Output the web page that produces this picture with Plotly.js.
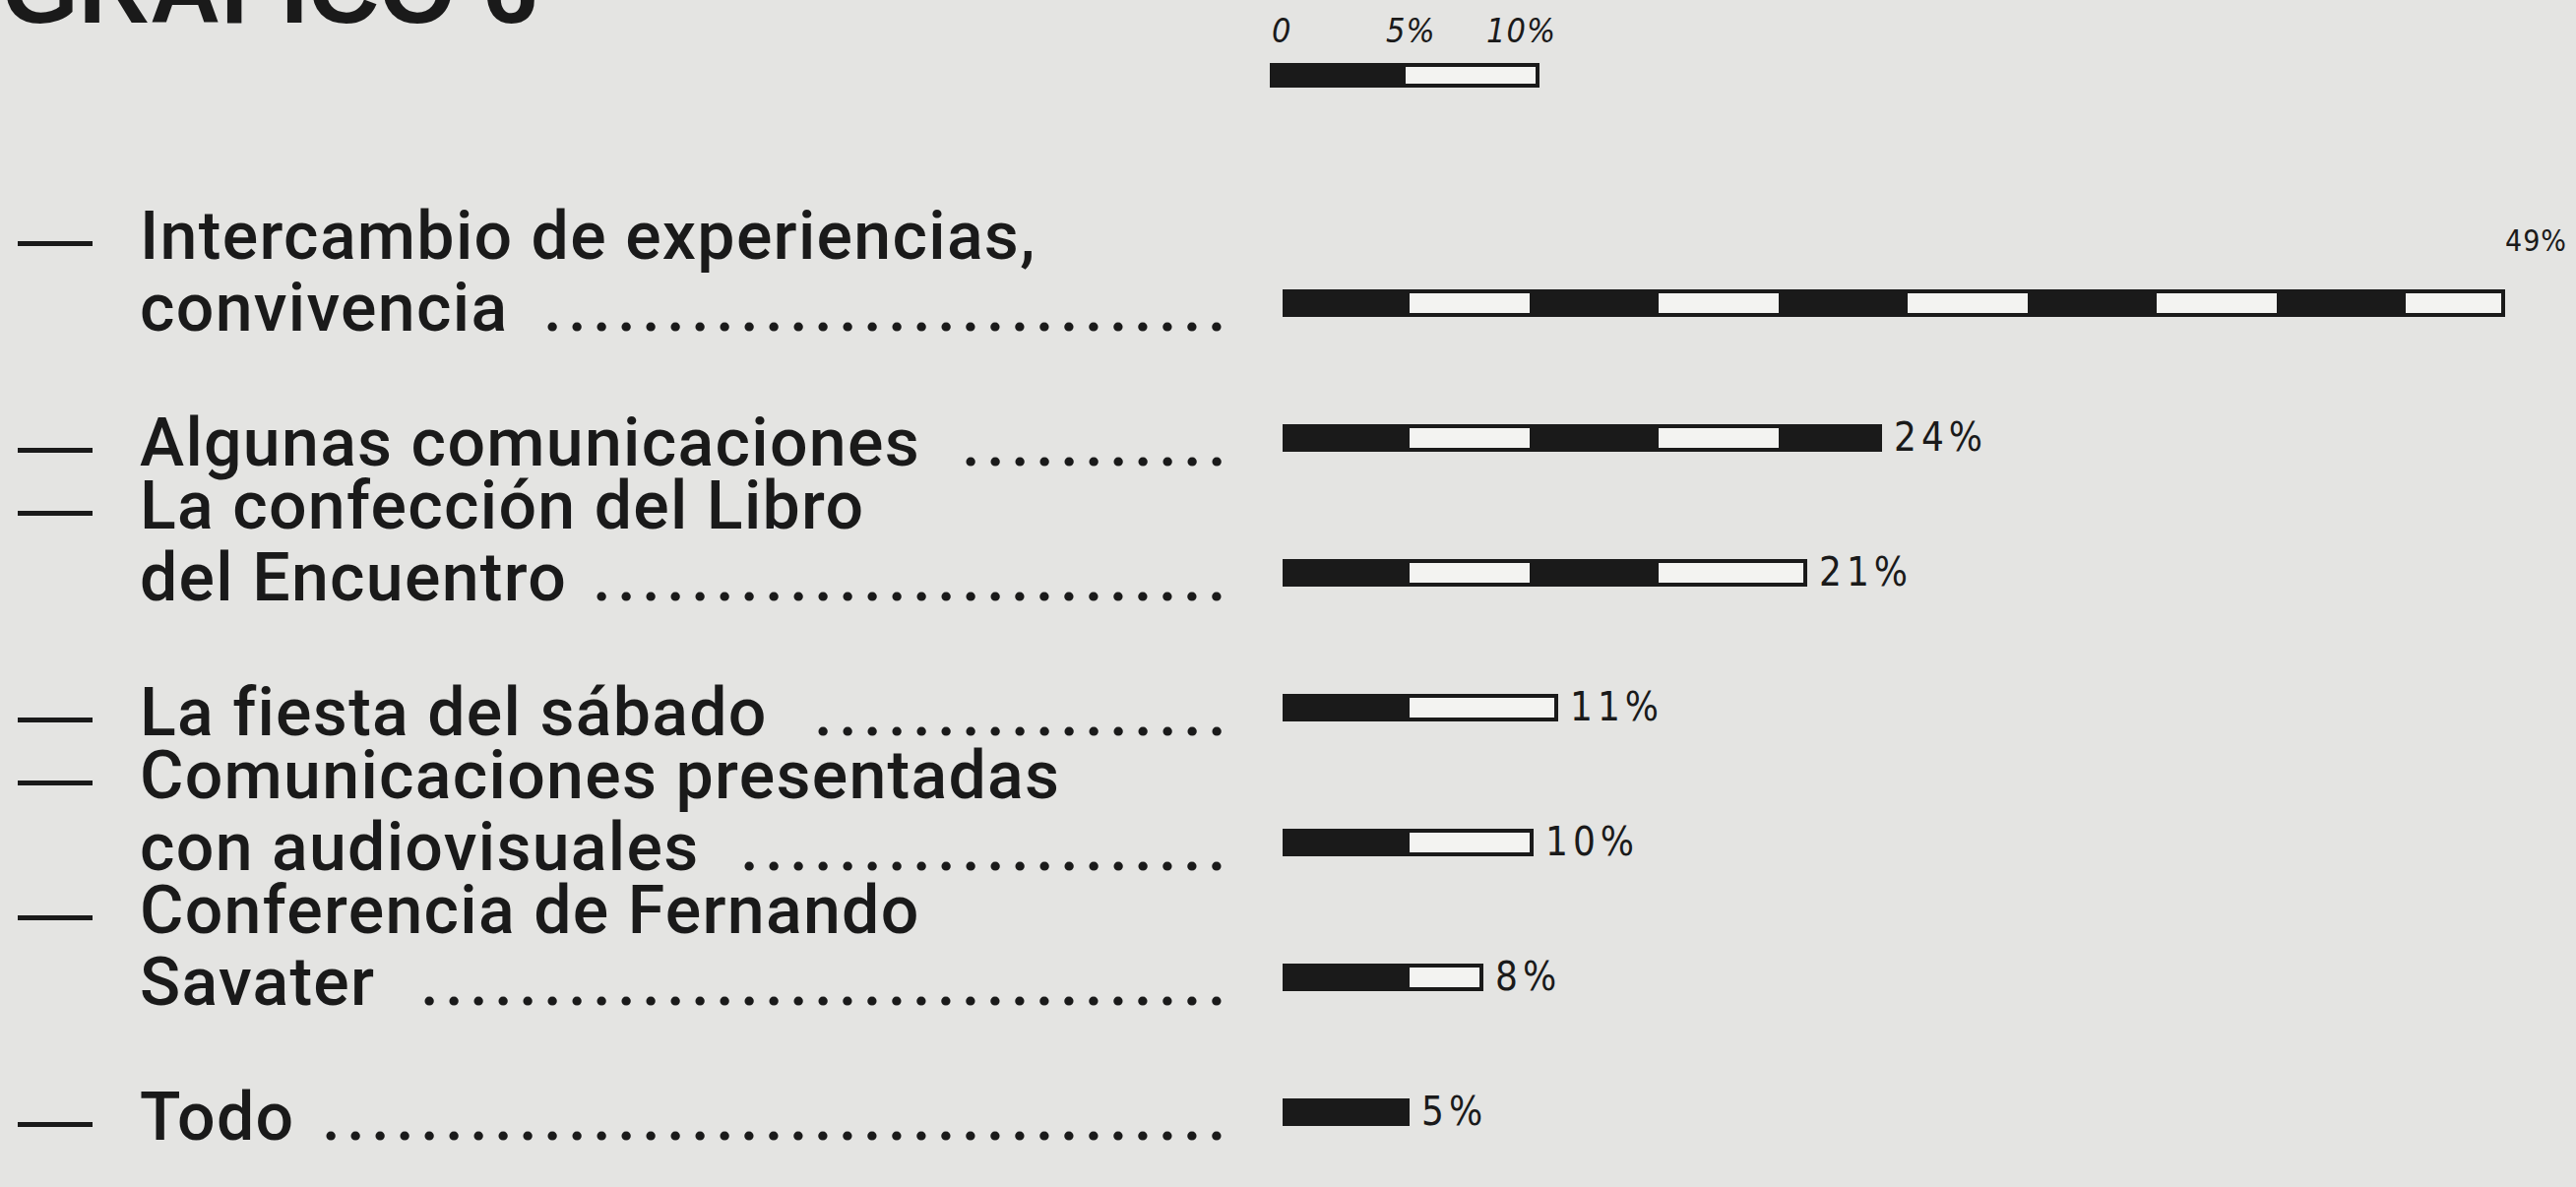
<!DOCTYPE html>
<html>
<head>
<meta charset="utf-8">
<script src="https://cdn.plot.ly/plotly-3.0.1.min.js"></script>
<style>
  html, body { margin: 0; padding: 0; background: #e4e4e2; }
  #chart { width: 2617px; height: 1206px; }
</style>
</head>
<body>
<div id="chart"></div>
<script>
// ---------------- data ----------------
const titleText = "GRAFICO 6";
const categories = [
  "Intercambio de experiencias,\nconvivencia",
  "Algunas comunicaciones",
  "La confección del Libro\ndel Encuentro",
  "La fiesta del sábado",
  "Comunicaciones presentadas\ncon audiovisuales",
  "Conferencia de Fernando\nSavater",
  "Todo"
];
const values = [49, 24, 21, 11, 10, 8, 5];          // percent
const scaleTicks = [0, 5, 10];                       // scale key
const scaleTickText = ["0", "5%", "10%"];

// ---------------- layout constants ----------------
const W = 2617, H = 1206;
const BG = "#e4e4e2", INK = "#1a1a1a", PAPERWHITE = "#f3f3f1";
const ROW_PX = 137;          // distance between bars
const FIRST_BAR_PX = 308;    // centre of the first bar
const LINE_GAP_PX = 73;      // distance between the two lines of a label
const BAR_X0 = 1303;         // left edge of bars
const PX_PER_PCT = 25.3;
const KEY_X0 = 1290, KEY_PX_PER_PCT = 27.2;
const TEXT_X = 140, DASH_X = 16, LEADER_END = 1254;
const FONT = "Roboto, 'Liberation Sans', Arial, sans-serif";
const DASH_FONT = "'Liberation Sans', Arial, sans-serif";
const FSIZE = 68, FWEIGHT = 500, LSPACE = 1.3, DASH_SIZE = 76;
const HAND = "'DejaVu Sans Condensed', 'DejaVu Sans', sans-serif";

const lines = categories.map(c => c.split("\n"));
const pos = categories.map((c, i) => i);

// segments of 5 %, alternately black / white; a 1 % remainder joins the last segment
function segments(v) {
  const s = [];
  let left = v;
  while (left > 0) {
    if (left >= 5) { s.push(5); left -= 5; }
    else if (left <= 1 && s.length) { s[s.length - 1] += left; left = 0; }
    else { s.push(left); left = 0; }
  }
  return s;
}
const segs = values.map(segments);
const nSeg = Math.max(...segs.map(s => s.length));

const traces = [];
for (let k = 0; k < nSeg; k++) {
  traces.push({
    type: "bar", orientation: "h",
    x: segs.map(s => (k < s.length ? s[k] : null)),
    y: pos,
    width: 0.17,
    marker: { color: k % 2 === 0 ? INK : PAPERWHITE, line: { color: INK, width: 4 } },
    hoverinfo: "skip", showlegend: false, xaxis: "x", yaxis: "y"
  });
}
// scale key bar
for (let k = 0; k < scaleTicks.length - 1; k++) {
  traces.push({
    type: "bar", orientation: "h",
    x: [scaleTicks[k + 1] - scaleTicks[k]], y: [0],
    width: 0.3,
    marker: { color: k % 2 === 0 ? INK : PAPERWHITE, line: { color: INK, width: 4 } },
    hoverinfo: "skip", showlegend: false, xaxis: "x2", yaxis: "y2"
  });
}

// ---------------- annotations ----------------
const ctx = document.createElement("canvas").getContext("2d");
ctx.font = FWEIGHT + " " + FSIZE + "px " + FONT;
const dotW = ctx.measureText(".").width;
const DOT_SPACING = 25;
const annotations = [];
const txtFont = { family: FONT, size: FSIZE, color: INK, weight: FWEIGHT };
const spaced = (t, ls) => "<span style=\"letter-spacing:" + ls + "px\">" + t + "</span>";

lines.forEach((ls, i) => {
  ls.forEach((txt, j) => {
    const ys = -5 + (ls.length - 1 - j) * LINE_GAP_PX;
    if (j === 0) {
      annotations.push({
        xref: "paper", yref: "y", x: DASH_X / W, y: pos[i], xanchor: "left", yanchor: "middle",
        yshift: ys, text: "\u2014", showarrow: false,
        font: { family: DASH_FONT, size: DASH_SIZE, color: INK }
      });
    }
    annotations.push({
      xref: "paper", yref: "y", x: TEXT_X / W, y: pos[i], xanchor: "left", yanchor: "middle",
      yshift: ys, text: spaced(txt, LSPACE), showarrow: false, font: txtFont
    });
    if (j === ls.length - 1) {
      // leader dots on a common grid ending at LEADER_END
      const end = TEXT_X + ctx.measureText(txt).width + txt.length * LSPACE + 28;
      const n = Math.max(0, Math.floor((LEADER_END - end) / DOT_SPACING));
      annotations.push({
        xref: "paper", yref: "y", x: LEADER_END / W, y: pos[i], xanchor: "right", yanchor: "middle",
        yshift: ys, showarrow: false,
        text: spaced(".".repeat(n), (DOT_SPACING - dotW).toFixed(1)),
        font: txtFont
      });
    }
  });
});

// value labels
values.forEach((v, i) => {
  const endPx = BAR_X0 + v * PX_PER_PCT;
  const tooFar = endPx + 12 + 95 > W;
  annotations.push(tooFar ? {
    xref: "x", yref: "y", x: v, y: pos[i], xanchor: "left", yanchor: "middle",
    xshift: 0, yshift: 64, showarrow: false,
    text: spaced(v + "%", 1),
    font: { family: HAND, size: 30, color: INK }
  } : {
    xref: "x", yref: "y", x: v, y: pos[i], xanchor: "left", yanchor: "middle",
    xshift: 12, yshift: 1, showarrow: false,
    text: spaced(v + "%", 5),
    font: { family: HAND, size: 40, color: INK }
  });
});

// scale key labels
const keyShift = [0, -20, -54];
scaleTicks.forEach((t, i) => {
  annotations.push({
    xref: "x2", yref: "paper", x: t, y: 1 - 31 / H, xanchor: "left", yanchor: "middle",
    xshift: keyShift[i], showarrow: false,
    text: "<i>" + spaced(scaleTickText[i], 1) + "</i>",
    font: { family: HAND, size: 34, color: INK }
  });
});

// heading, cut off by the top edge as in the scanned page
annotations.push({
  xref: "paper", yref: "paper", x: 0, y: 1, xanchor: "left", yanchor: "bottom",
  yshift: -46, text: "<b>" + titleText + "</b>", showarrow: false,
  font: { family: "'Liberation Sans', Arial, sans-serif", size: 100, color: INK }
});

const hidden = { visible: false, showgrid: false, zeroline: false, fixedrange: true };
const layout = {
  width: W, height: H,
  margin: { l: 0, r: 0, t: 0, b: 0, pad: 0 },
  paper_bgcolor: BG, plot_bgcolor: "rgba(0,0,0,0)",
  barmode: "stack", bargap: 0,
  showlegend: false,
  xaxis: Object.assign({}, hidden, { domain: [BAR_X0 / W, 1], range: [0, (W - BAR_X0) / PX_PER_PCT], anchor: "y" }),
  yaxis: Object.assign({}, hidden, { domain: [0, 1], range: [(H - FIRST_BAR_PX) / ROW_PX, -FIRST_BAR_PX / ROW_PX], anchor: "x" }),
  xaxis2: Object.assign({}, hidden, { domain: [KEY_X0 / W, 1], range: [0, (W - KEY_X0) / KEY_PX_PER_PCT], anchor: "y2" }),
  yaxis2: Object.assign({}, hidden, { domain: [1 - 111 / H, 1 - 41 / H], range: [-0.5, 0.5], anchor: "x2" }),
  annotations: annotations
};

Plotly.newPlot("chart", traces, layout, { displayModeBar: false, staticPlot: true });
</script>
</body>
</html>
